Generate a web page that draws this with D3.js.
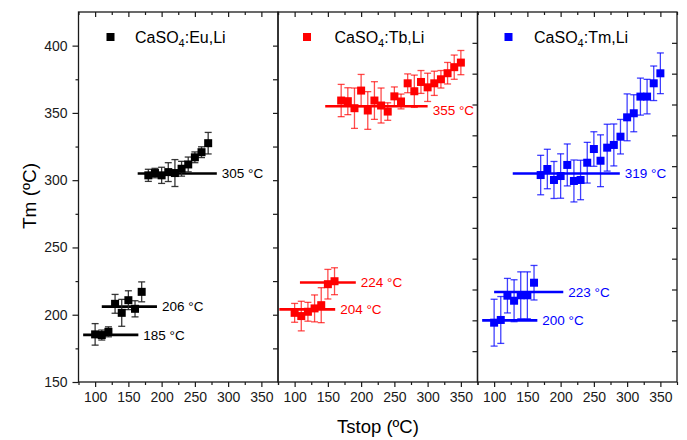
<!DOCTYPE html>
<html>
<head>
<meta charset="utf-8">
<script src="https://cdn.jsdelivr.net/npm/d3@7"></script>
<style>
  html, body { margin: 0; padding: 0; background: #fff; }
  svg { display: block; font-family: "Liberation Sans", Arial, sans-serif; }
</style>
</head>
<body>
<svg id="chart" width="687" height="440"></svg>
<script>
// ---------------- data ----------------
const xTicks = [100, 150, 200, 250, 300, 350];
const xMinor = [75, 125, 175, 225, 275, 325, 375];
const yTicks = [150, 200, 250, 300, 350, 400];
const yMinor = [175, 225, 275, 325, 375];

// CaSO4:Eu,Li (black)
const euHighX = [180, 190, 200, 210, 220, 230, 240, 250, 260, 270];
const euHighY = [303.6, 305.3, 303.6, 306, 305.3, 308.5, 311.7, 317, 320.8, 327.5];
const euHighErr = [4.5, 3.5, 6, 7, 10, 5.5, 5.5, 4, 4, 8];
const euLowX = [100, 110, 120, 130, 140, 150, 160, 170];
const euLowY = [185.4, 184.9, 187.3, 208.1, 201.4, 210.8, 204.4, 217];
const euLowErr = [8, 3.7, 3.7, 7, 10, 7, 6, 7.4];
const euLines = [[164, 283, 305], [110, 193, 206], [82, 165, 185]];
const euLabels = ["305 °C", "206 °C", "185 °C"];

// CaSO4:Tb,Li (red)
const tbHighX = [170, 180, 190, 200, 210, 220, 230, 240, 250, 260, 270, 280, 290, 300, 310, 320, 330, 340, 350];
const tbHighY = [359.2, 358.7, 353.5, 366.6, 351.8, 359.2, 355.5, 351, 362.3, 358.5, 372, 366.1, 373, 369, 372, 375, 379.5, 384, 387.4];
const tbHighErr = [12, 10, 15, 12, 14, 14, 13, 6.5, 7, 5.5, 7, 12, 8.5, 10.5, 9, 6.5, 8, 9, 9];
const tbLowX = [100, 110, 120, 130, 140, 150, 160];
const tbLowY = [201.4, 199, 202.2, 204.7, 207.1, 222.7, 224.9];
const tbLowErr = [7, 11, 7, 10, 13, 11, 10];
const tbLines = [[146, 300, 355], [108, 192, 224], [77, 161, 204]];
const tbLabels = ["355 °C", "224 °C", "204 °C"];

// CaSO4:Tm,Li (blue)
const tmHighX = [170, 180, 190, 200, 210, 220, 230, 240, 250, 260, 270, 280, 290, 300, 310, 320, 330, 340, 350];
const tmHighY = [317.8, 322.7, 313.8, 317, 326, 313, 313.8, 327.8, 338.9, 329.4, 340, 342.2, 348.9, 364.6, 367.9, 381.4, 381.4, 392.2, 400.3];
const tmHighErr = [16, 16, 15, 18, 17, 17, 16, 16.5, 14, 21, 19, 17, 14, 19, 15, 15, 14, 14, 16.5];
const tmLowX = [100, 110, 120, 130, 140, 150, 160];
const tmLowY = [198.1, 200.3, 220, 215.9, 220.3, 220.3, 230.5];
const tmLowErr = [19, 19, 14, 17, 19, 19, 14];
const tmLines = [[128, 289, 319], [100, 204, 223], [82, 165, 200]];
const tmLabels = ["319 °C", "223 °C", "200 °C"];

const legendNames = [["CaSO", "4", ":Eu,Li"], ["CaSO", "4", ":Tb,Li"], ["CaSO", "4", ":Tm,Li"]];
const colors = ["#000000", "#ff0000", "#0000ff"];

// ---------------- layout ----------------
const svg = d3.select("#chart");
const plotTop = 12, plotBottom = 382;
const left0 = 78.5, panelW = 199.5;
const axisColor = "#1a1a1a";
const mk = 8;

const yMain = d3.scaleLinear().domain([150, 425]).range([plotBottom, plotTop]);
const yAlt = d3.scaleLinear().domain([150, 450]).range([plotBottom, plotTop]);

const panels = [
  { name: legendNames[0], color: colors[0], y: yMain, rightY: yMain, errColor: "#222", errOp: 0.9,
    sets: [[euHighX, euHighY, euHighErr], [euLowX, euLowY, euLowErr]], lines: euLines, labels: euLabels, labelColor: "#000" },
  { name: legendNames[1], color: colors[1], y: yMain, rightY: yAlt, errColor: "#ff0000", errOp: 0.7,
    sets: [[tbHighX, tbHighY, tbHighErr], [tbLowX, tbLowY, tbLowErr]], lines: tbLines, labels: tbLabels, labelColor: "#ff0000" },
  { name: legendNames[2], color: colors[2], y: yAlt, rightY: yAlt, errColor: "#0000ff", errOp: 0.75,
    sets: [[tmHighX, tmHighY, tmHighErr], [tmLowX, tmLowY, tmLowErr]], lines: tmLines, labels: tmLabels, labelColor: "#0000ff" }
];

function styleAxis(g) {
  g.select(".domain").remove();
  g.selectAll(".tick line").attr("stroke", axisColor).attr("stroke-width", 1.2);
  g.selectAll(".tick text").attr("fill", axisColor).style("font-size", "14px")
    .style("font-family", "'Liberation Sans', Arial, sans-serif");
}

panels.forEach((p, i) => {
  const x0 = left0 + i * panelW, x1 = x0 + panelW;
  const x = d3.scaleLinear().domain([75, 375]).range([x0, x1]);
  const g = svg.append("g");

  g.append("g").attr("transform", `translate(0,${plotBottom})`)
    .call(d3.axisBottom(x).tickValues(xTicks).tickSize(5).tickPadding(5).tickFormat(d3.format("d")))
    .call(styleAxis);
  g.append("g").attr("transform", `translate(0,${plotBottom})`)
    .call(d3.axisBottom(x).tickValues(xMinor).tickSize(3).tickFormat(""))
    .call(styleAxis);
  g.append("g").attr("transform", `translate(0,${plotTop})`)
    .call(d3.axisBottom(x).tickValues(xTicks).tickSize(5).tickFormat(""))
    .call(styleAxis);
  g.append("g").attr("transform", `translate(0,${plotTop})`)
    .call(d3.axisBottom(x).tickValues(xMinor).tickSize(3).tickFormat(""))
    .call(styleAxis);
  const rTicks = d3.range(175, p.rightY.domain()[1], 25);
  g.append("g").attr("transform", `translate(${x1},0)`)
    .call(d3.axisLeft(p.rightY).tickValues(rTicks).tickSize(5).tickFormat(""))
    .call(styleAxis);

  g.append("rect").attr("x", x0).attr("y", plotTop).attr("width", panelW).attr("height", plotBottom - plotTop)
    .attr("fill", "none").attr("stroke", axisColor).attr("stroke-width", 1.3);

  p.lines.forEach((l, k) => {
    g.append("line").attr("x1", x(l[0])).attr("x2", x(l[1]))
      .attr("y1", p.y(l[2])).attr("y2", p.y(l[2]))
      .attr("stroke", p.color).attr("stroke-width", 2.6);
    g.append("text").attr("x", x(l[1]) + 5).attr("y", p.y(l[2]) + (i === 1 && k === 0 ? 4 : 0))
      .attr("dy", "0.35em").attr("fill", p.labelColor).style("font-size", "13.5px")
      .text(p.labels[k]);
  });

  p.sets.forEach(([xs, ys, es]) => {
    const data = xs.map((v, j) => ({ x: v, y: ys[j], e: es[j] }));
    const eg = g.append("g").attr("stroke", p.errColor).attr("stroke-opacity", p.errOp).attr("stroke-width", 1.3);
    data.forEach(d => {
      const cx = x(d.x), yt = p.y(d.y + d.e), yb = p.y(d.y - d.e);
      eg.append("line").attr("x1", cx).attr("x2", cx).attr("y1", yt).attr("y2", yb);
      eg.append("line").attr("x1", cx - 3.5).attr("x2", cx + 3.5).attr("y1", yt).attr("y2", yt);
      eg.append("line").attr("x1", cx - 3.5).attr("x2", cx + 3.5).attr("y1", yb).attr("y2", yb);
    });
    g.append("g").selectAll("rect").data(data).join("rect")
      .attr("x", d => x(d.x) - mk / 2).attr("y", d => p.y(d.y) - mk / 2)
      .attr("width", mk).attr("height", mk).attr("fill", p.color);
  });

  const lx = x0 + [32, 29, 31][i];
  g.append("rect").attr("x", lx - mk / 2).attr("y", 37 - mk / 2).attr("width", mk).attr("height", mk).attr("fill", p.color);
  const t = g.append("text").attr("x", x0 + 56.5).attr("y", 42.5).attr("fill", "#000").style("font-size", "16px");
  t.append("tspan").text(p.name[0]);
  t.append("tspan").attr("dy", 4).style("font-size", "11px").text(p.name[1]);
  t.append("tspan").attr("dy", -4).text(p.name[2]);
});

svg.append("g").attr("transform", `translate(${left0},0)`)
  .call(d3.axisLeft(yMain).tickValues(yTicks).tickSize(6).tickPadding(5))
  .call(styleAxis);
svg.append("g").attr("transform", `translate(${left0},0)`)
  .call(d3.axisLeft(yMain).tickValues(yMinor).tickSize(3).tickFormat(""))
  .call(styleAxis);

svg.append("text").attr("transform", `translate(36,196) rotate(-90)`).attr("text-anchor", "middle")
  .attr("fill", "#000").style("font-size", "19px").text("Tm (ºC)");
svg.append("text").attr("x", 378).attr("y", 433).attr("text-anchor", "middle")
  .attr("fill", "#000").style("font-size", "18.5px").text("Tstop (ºC)");
</script>
</body>
</html>
